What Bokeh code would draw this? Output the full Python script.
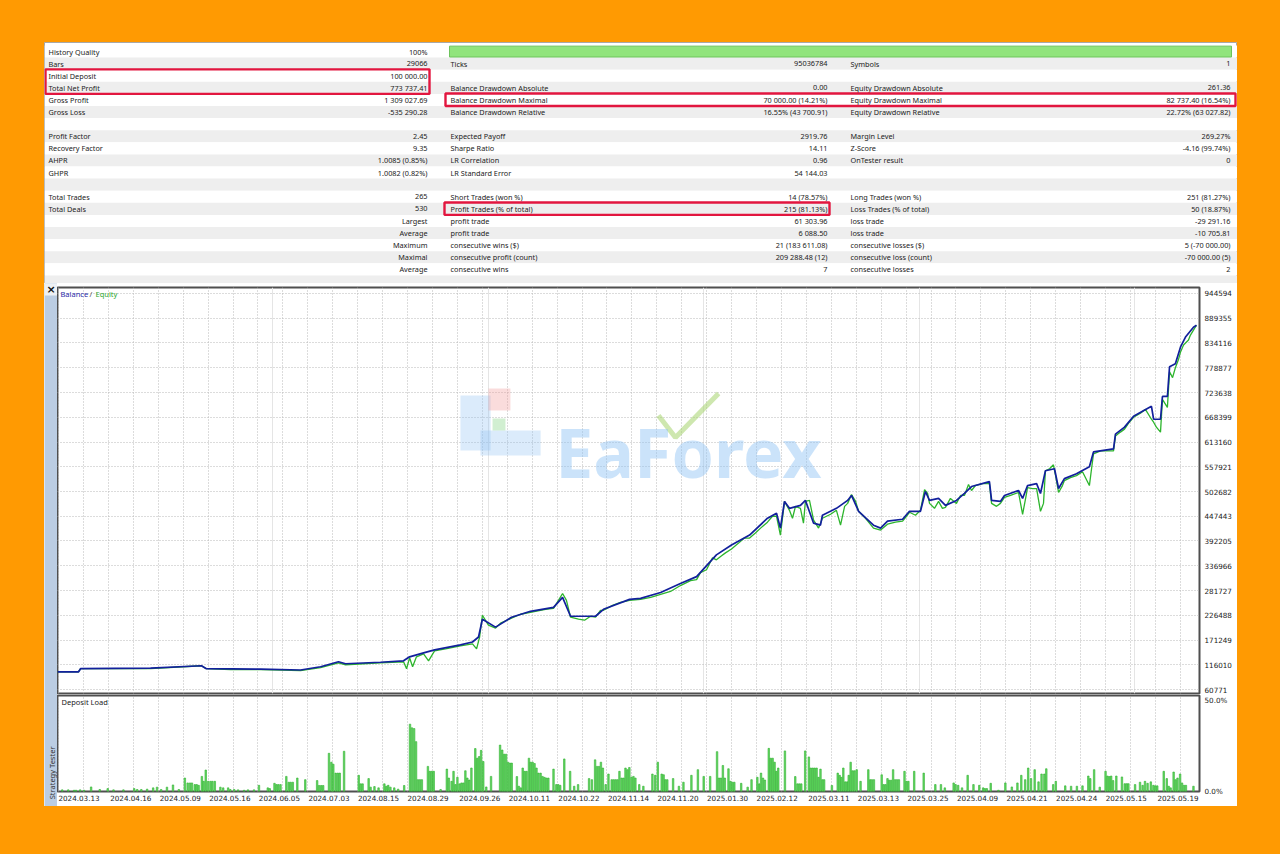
import math
import re
from bokeh.plotting import figure
from bokeh.layouts import column, row
from bokeh.models import (Range1d, FixedTicker, Grid, Label, Spacer,
                          PrintfTickFormatter, NumeralTickFormatter)
from bokeh.core.properties import value
from bokeh.embed import file_html
from bokeh.resources import INLINE

# ---------------- data ----------------
left_labels = ["History Quality", "Bars", "Initial Deposit", "Total Net Profit", "Gross Profit", "Gross Loss", "",
               "Profit Factor", "Recovery Factor", "AHPR", "GHPR", "", "Total Trades", "Total Deals",
               "", "", "", "", "", ""]
left_values = ["100%", "29066", "100 000.00", "773 737.41", "1 309 027.69", "-535 290.28", "",
               "2.45", "9.35", "1.0085 (0.85%)", "1.0082 (0.82%)", "", "265", "530",
               "Largest", "Average", "Maximum", "Maximal", "Average", ""]
mid_labels = ["", "Ticks", "", "Balance Drawdown Absolute", "Balance Drawdown Maximal", "Balance Drawdown Relative", "",
              "Expected Payoff", "Sharpe Ratio", "LR Correlation", "LR Standard Error", "",
              "Short Trades (won %)", "Profit Trades (% of total)", "profit trade", "profit trade",
              "consecutive wins ($)", "consecutive profit (count)", "consecutive wins", ""]
mid_values = ["", "95036784", "", "0.00", "70 000.00 (14.21%)", "16.55% (43 700.91)", "",
              "2919.76", "14.11", "0.96", "54 144.03", "",
              "14 (78.57%)", "215 (81.13%)", "61 303.96", "6 088.50",
              "21 (183 611.08)", "209 288.48 (12)", "7", ""]
right_labels = ["", "Symbols", "", "Equity Drawdown Absolute", "Equity Drawdown Maximal", "Equity Drawdown Relative", "",
                "Margin Level", "Z-Score", "OnTester result", "", "",
                "Long Trades (won %)", "Loss Trades (% of total)", "loss trade", "loss trade",
                "consecutive losses ($)", "consecutive loss (count)", "consecutive losses", ""]
right_values = ["", "1", "", "261.36", "82 737.40 (16.54%)", "22.72% (63 027.82)", "",
                "269.27%", "-4.16 (99.74%)", "0", "", "",
                "251 (81.27%)", "50 (18.87%)", "-29 291.16", "-10 705.81",
                "5 (-70 000.00)", "-70 000.00 (5)", "2", ""]

balance = [(0, 100000), (9.7, 100000), (10.7, 107172), (43.2, 108280), (66.8, 113800), (69.1, 107172),
           (94.2, 106067), (112.8, 104300), (122.1, 111591), (130.4, 122639), (133.7, 118220), (149.9, 121534),
           (160.6, 124848), (163.4, 133686), (169.9, 142525), (175.0, 149153), (187.0, 160202), (192.6, 166830),
           (195.4, 177879), (197.2, 217649), (203.3, 199973), (210.7, 222068), (219.5, 235326), (230.2, 244164),
           (234.4, 266259), (238.1, 224278), (249.7, 224278), (253.4, 239745), (265.5, 261840), (270.6, 264050),
           (279.9, 277307), (289.1, 297193), (296.6, 312659), (305.8, 361270), (312.8, 383365), (321.2, 405461),
           (329.5, 443023), (333.7, 454071), (335.5, 420928), (337.4, 480586), (339.7, 465119), (344.8, 471748),
           (347.1, 482795), (350.9, 431976), (354.1, 427557), (355.0, 449652), (361.5, 465119), (366.7, 482795),
           (368.5, 493843), (371.8, 458490), (378.7, 427557), (382.0, 420928), (385.2, 436395), (392.2, 440814),
           (395.4, 458490), (400.5, 458490), (402.8, 502681), (404.7, 482795), (408.9, 487214), (412.1, 471748),
           (417.2, 482795), (420.9, 498262), (424.2, 513729), (432.5, 524776), (433.5, 482795), (437.6, 480586),
           (439.5, 493843), (446.0, 504890), (447.9, 487214), (450.2, 515938), (454.4, 520357), (456.2, 498262),
           (458.5, 549081), (462.7, 553500), (464.6, 509310), (467.3, 531405), (472.9, 542452), (478.9, 557919),
           (480.8, 591062), (490.1, 597690), (491.0, 630834), (495.2, 646300), (499.4, 670605), (507.7, 692700),
           (508.7, 663976), (511.9, 663976), (512.8, 714796), (515.1, 714796), (516.1, 781082), (518.8, 787710),
           (521.2, 825273), (523.5, 847368), (527.2, 869464), (528.6, 873737)]

equity = [(0, 100000), (9.7, 100000), (10.7, 107172), (43.2, 107172), (66.8, 113800), (69.1, 107172),
          (80.3, 104962), (94.2, 104962), (112.8, 102753), (122.1, 109381), (130.4, 120429), (133.7, 116010),
          (149.9, 120429), (160.6, 122639), (162.0, 107172), (163.4, 131477), (164.8, 111591), (166.6, 133686),
          (169.9, 140315), (172.2, 124848), (175.0, 146944), (180.1, 151363), (187.0, 158012), (192.6, 162411),
          (194.5, 151363), (195.9, 177879), (197.2, 226488), (200.0, 204392), (203.3, 197767), (205.6, 208811),
          (210.7, 219859), (214.9, 228697), (219.5, 233116), (226.5, 239745), (230.2, 241954), (232.5, 259630),
          (234.4, 275097), (236.2, 259630), (238.1, 222068), (241.8, 217649), (244.6, 215440), (247.4, 224278),
          (249.7, 222068), (252.0, 237535), (253.4, 237535), (257.6, 248583), (261.3, 255211), (265.5, 259630),
          (270.6, 261840), (275.3, 266259), (279.9, 272888), (284.5, 279517), (289.1, 292774), (293.8, 303822),
          (296.6, 306031), (298.4, 321498), (301.2, 328127), (304.0, 354641), (305.8, 350222), (308.2, 359060),
          (310.0, 365689), (312.8, 374527), (316.1, 387785), (318.8, 398833), (321.2, 398833), (323.9, 409880),
          (326.3, 420928), (329.5, 434185), (331.8, 447443), (333.7, 447443), (335.5, 405461), (337.4, 480586),
          (339.7, 460700), (341.1, 443023), (342.5, 469538), (344.8, 465119), (346.2, 431976), (347.1, 480586),
          (349.0, 482795), (350.9, 438604), (353.2, 420928), (355.0, 443023), (358.8, 451862), (361.5, 460700),
          (363.4, 427557), (365.3, 469538), (366.7, 476167), (368.5, 496052), (370.4, 480586), (371.8, 458490),
          (375.0, 443023), (378.7, 420928), (382.0, 416510), (385.2, 429766), (388.9, 434185), (392.2, 436395),
          (394.0, 447443), (395.4, 456281), (398.2, 449652), (400.5, 460700), (402.4, 507100), (403.8, 498262),
          (404.7, 476167), (407.0, 465119), (408.9, 480586), (410.7, 465119), (412.1, 467329), (414.4, 487214),
          (417.2, 476167), (419.1, 493843), (420.9, 493843), (422.8, 518148), (424.2, 504890), (426.0, 515938),
          (429.3, 520357), (432.5, 520357), (433.5, 476167), (435.8, 469538), (437.6, 476167), (439.5, 489424),
          (442.3, 493843), (446.0, 500471), (447.9, 451862), (449.3, 487214), (450.2, 511519), (452.5, 509310),
          (454.4, 509310), (456.2, 458490), (457.6, 476167), (458.5, 549081), (460.4, 553500), (462.2, 562338),
          (463.2, 538033), (464.6, 500471), (466.4, 515938), (467.3, 526986), (470.1, 533614), (472.9, 538033),
          (475.7, 546871), (478.9, 515938), (479.9, 553500), (480.8, 586643), (484.1, 593271), (490.1, 593271),
          (491.0, 626414), (493.3, 635253), (495.2, 641881), (497.1, 655138), (499.4, 668395), (502.6, 677233),
          (504.9, 686071), (507.7, 663976), (508.7, 657348), (510.0, 646300), (511.9, 635253), (512.8, 708167),
          (515.1, 690490), (516.1, 770034), (517.5, 756782), (518.8, 778872), (520.2, 796548), (521.2, 814225),
          (522.6, 829692), (523.5, 834111), (524.9, 840739), (525.8, 851787), (527.2, 862835), (528.6, 873737)]

deposit_load = [(2.2, 0.9), (5.0, 0.9), (7.7, 0.7), (8.6, 0.7), (10.5, 0.9), (12.3, 0.7), (15.6, 2.5), (19.6, 1.1),
                (23.3, 1.6), (26.0, 0.9), (30.6, 0.9), (35.6, 1.6), (37.0, 1.1), (38.9, 1.1), (41.6, 1.3),
                (44.4, 2.0), (46.2, 2.4), (48.1, 1.1), (50.8, 2.4), (53.6, 3.6), (56.3, 1.1), (59.1, 7.4),
                (60.4, 4.7), (61.5, 4.7), (62.4, 4.7), (63.7, 3.8), (64.6, 3.8), (65.5, 3.4), (67.0, 8.3),
                (67.8, 5.6), (68.8, 11.8), (69.9, 5.6), (71.0, 5.6), (71.9, 5.6), (73.0, 5.6), (75.6, 2.4),
                (76.9, 2.0), (79.2, 2.0), (80.2, 1.1), (82.0, 1.1), (83.8, 0.9), (86.6, 0.7), (88.4, 0.9),
                (91.2, 0.9), (93.5, 3.4), (97.6, 2.0), (98.5, 1.6), (100.7, 4.5), (101.6, 3.8), (102.5, 3.8),
                (103.5, 3.8), (106.2, 8.3), (107.3, 5.1), (108.2, 5.1), (109.2, 5.1), (111.3, 7.4), (115.0, 6.5),
                (120.5, 6.0), (121.4, 3.3), (122.4, 3.3), (123.3, 3.3), (126.0, 21.0), (127.1, 16.1),
                (128.0, 15.0), (129.1, 10.1), (130.1, 10.1), (131.0, 10.1), (133.0, 22.1), (139.8, 8.9),
                (140.7, 4.2), (141.6, 4.2), (144.4, 7.1), (145.3, 2.4), (147.1, 2.7), (149.0, 2.0), (151.7, 4.2),
                (152.6, 2.9), (153.5, 3.4), (154.5, 2.4), (156.3, 2.0), (158.1, 1.3), (160.9, 3.3), (163.6, 37.0),
                (164.5, 35.0), (165.5, 34.6), (166.4, 27.4), (167.3, 6.5), (168.2, 6.5), (169.1, 6.5),
                (171.9, 13.8), (172.8, 11.1), (173.7, 11.1), (174.6, 11.1), (177.8, 1.1), (180.7, 12.3),
                (181.6, 7.4), (182.9, 5.6), (183.8, 11.1), (184.7, 3.8), (185.6, 7.8), (186.6, 4.2), (187.5, 4.7),
                (188.4, 4.7), (189.3, 11.4), (190.2, 7.4), (191.1, 6.3), (192.1, 12.9), (193.9, 23.6),
                (194.8, 18.3), (195.7, 19.2), (196.6, 22.6), (197.6, 16.5), (199.0, 2.5), (201.2, 8.3),
                (205.4, 25.5), (206.4, 22.8), (207.3, 20.5), (208.2, 20.5), (209.1, 16.1), (210.0, 15.6),
                (210.8, 15.6), (213.2, 8.2), (214.1, 2.9), (215.0, 2.0), (215.9, 12.9), (216.8, 11.1),
                (217.7, 11.1), (218.8, 18.3), (219.6, 16.1), (220.5, 16.1), (221.4, 15.4), (222.3, 12.9),
                (223.2, 10.1), (224.2, 10.1), (225.1, 8.3), (226.0, 7.8), (226.9, 7.4), (227.8, 7.4),
                (230.2, 12.3), (231.5, 3.8), (232.4, 3.8), (233.3, 3.4), (235.2, 17.9), (237.9, 11.1),
                (239.8, 2.9), (241.6, 3.8), (246.7, 7.1), (248.0, 6.5), (249.5, 17.4), (250.4, 13.8),
                (251.3, 13.8), (252.2, 16.1), (253.1, 12.9), (254.4, 3.8), (255.7, 9.6), (257.2, 6.5),
                (258.1, 6.5), (259.0, 6.5), (259.9, 6.5), (260.8, 11.1), (261.8, 7.4), (262.7, 7.4),
                (263.6, 12.9), (264.5, 12.0), (265.4, 13.2), (266.4, 7.8), (267.3, 8.3), (268.2, 7.4),
                (270.0, 3.8), (271.9, 2.9), (276.1, 9.6), (277.4, 8.9), (278.6, 16.1), (280.4, 9.6),
                (281.3, 9.2), (282.1, 6.5), (283.0, 6.5), (285.7, 7.1), (288.4, 2.9), (290.5, 5.1),
                (294.2, 8.9), (297.2, 12.0), (299.9, 8.3), (302.9, 8.3), (306.1, 21.9), (307.0, 7.4),
                (307.9, 7.4), (308.8, 14.3), (309.7, 7.4), (311.4, 12.5), (312.3, 5.6), (313.2, 5.1),
                (314.1, 5.1), (317.3, 4.5), (320.3, 2.4), (322.1, 6.5), (324.8, 7.8), (325.7, 4.2),
                (326.5, 10.1), (327.4, 7.4), (328.3, 6.3), (330.1, 23.7), (331.0, 18.3), (331.9, 18.3),
                (332.8, 16.1), (333.6, 11.1), (334.5, 12.9), (337.6, 22.3), (342.4, 8.2), (343.4, 4.2),
                (344.3, 4.2), (345.2, 4.2), (347.0, 22.3), (348.7, 19.0), (349.6, 12.9), (350.5, 12.9),
                (351.4, 12.9), (352.3, 12.9), (353.2, 7.8), (354.1, 12.3), (355.0, 6.5), (355.8, 6.5),
                (359.4, 3.3), (362.1, 10.1), (363.0, 8.9), (363.8, 7.8), (364.7, 12.9), (365.6, 5.3),
                (366.5, 5.3), (367.2, 8.9), (368.1, 16.1), (369.0, 11.4), (369.9, 11.4), (370.9, 12.0),
                (372.7, 5.6), (376.3, 12.0), (377.2, 6.5), (378.0, 6.5), (378.9, 6.5), (382.5, 9.2),
                (383.4, 3.8), (384.3, 3.8), (385.2, 7.1), (386.0, 6.2), (386.9, 6.2), (387.8, 12.0),
                (388.7, 6.5), (389.6, 6.5), (390.5, 6.5), (393.1, 11.1), (394.0, 5.6), (394.9, 5.6),
                (397.6, 11.1), (402.0, 10.1), (407.4, 3.8), (410.0, 3.8), (411.8, 2.0), (415.9, 4.7),
                (416.8, 3.8), (418.0, 3.4), (419.8, 2.0), (422.4, 8.9), (425.1, 3.8), (427.8, 3.4),
                (429.6, 2.0), (430.4, 1.6), (431.3, 1.6), (433.1, 4.5), (436.7, 0.7), (439.9, 4.7),
                (442.9, 2.5), (445.5, 4.7), (447.3, 8.9), (449.1, 6.5), (450.5, 12.9), (451.8, 7.1),
                (453.5, 12.0), (455.3, 5.3), (456.7, 9.6), (458.0, 9.6), (458.9, 12.5), (462.1, 3.8),
                (463.3, 5.6), (467.7, 3.1), (470.4, 2.9), (473.1, 2.9), (475.7, 3.1), (478.4, 8.5),
                (479.3, 7.1), (481.1, 12.0), (483.7, 2.4), (486.4, 11.1), (487.3, 8.5), (488.2, 8.2),
                (489.0, 8.5), (489.9, 6.0), (491.4, 8.5), (494.0, 8.0), (495.3, 4.3), (496.2, 4.3),
                (497.0, 4.3), (500.1, 3.8), (502.4, 5.1), (503.6, 3.4), (504.7, 5.6), (505.9, 4.5),
                (507.4, 5.3), (508.6, 3.4), (509.5, 3.1), (510.4, 3.1), (513.4, 11.1), (514.8, 7.1),
                (515.7, 2.9), (516.6, 2.0), (518.0, 10.7), (518.9, 6.5), (519.8, 7.4), (521.0, 9.6),
                (521.9, 4.7), (522.8, 3.4), (523.7, 3.4), (527.2, 2.9)]

date_labels = ["2024.03.13", "2024.04.16", "2024.05.09", "2024.05.16", "2024.06.05", "2024.07.03",
               "2024.08.15", "2024.08.29", "2024.09.26", "2024.10.11", "2024.10.22", "2024.11.14",
               "2024.11.20", "2025.01.30", "2025.02.12", "2025.03.11", "2025.03.13", "2025.03.25",
               "2025.04.09", "2025.04.21", "2025.04.24", "2025.05.15", "2025.05.19"]
date_tick_pos = [10, 34, 57, 80, 103, 126, 149, 172, 196, 219, 242, 265, 288, 311, 334, 358, 381, 404,
                 427, 450, 473, 496, 520]
balance_ticks = [60771, 116010, 171249, 226488, 281727, 336966, 392205, 447443, 502682, 557921,
                 613160, 668399, 723638, 778877, 834116, 889355, 944594]
load_ticks = [0, 50]
total_deals = 530

# ---------------- style ----------------
ORANGE = "#FF9A02"
UI_FONT = "Noto Sans"
AX_FONT = "DejaVu Sans"
BAL_COLOR = "#12209C"
EQ_COLOR = "#2DB52D"
RED = "#E2163F"
GRID_COLOR = "#B9B9B9"
GRID_DASH = "1 2"
vgrid_ticks = [0.46 + 11.57 * k for k in range(46)]

# ---------------- statistics table ----------------
TW, TH = 1193, 241
tp = figure(width=TW, height=TH, x_range=Range1d(0, TW), y_range=Range1d(19.67, -0.25),
            output_backend="svg", toolbar_location=None, min_border=0, title=None,
            x_axis_location=None, y_axis_location=None)
tp.xgrid.visible = False
tp.ygrid.visible = False
tp.background_fill_color = "white"
tp.border_fill_color = ORANGE
tp.outline_line_color = "#A8A8A8"

nrows = len(left_labels)
tp.quad(left=[0] * nrows, right=[TW] * nrows, top=list(range(nrows)), bottom=[i + 1 for i in range(nrows)],
        fill_color=["#FFFFFF" if i % 2 == 0 else "#EEEEEE" for i in range(nrows)], line_color=None)
# history quality bar
tp.quad(left=[405], right=[1187], top=[0.05], bottom=[0.95], fill_color="#91E47C", line_color="#6DC35C")

label_x = [4, 406, 806]
value_x = [383, 783, 1186]
for ci, (labs, vals) in enumerate([(left_labels, left_values), (mid_labels, mid_values),
                                   (right_labels, right_values)]):
    rl = [i for i, t in enumerate(labs) if t]
    tp.text(x=[label_x[ci]] * len(rl), y=[i + 0.5 for i in rl], text=[labs[i] for i in rl],
            text_font=value(UI_FONT), text_font_size="7.3px", text_color="#222222",
            text_align="left", text_baseline="middle")
    rv = [i for i, t in enumerate(vals) if t]
    tp.text(x=[value_x[ci]] * len(rv), y=[i + 0.5 for i in rv], text=[vals[i] for i in rv],
            text_font=value(UI_FONT), text_font_size="7.3px", text_color="#222222",
            text_align="right", text_baseline="middle")

# red highlight frames (Initial Deposit + Net Profit, Drawdown Maximal row, Profit Trades)
tp.quad(left=[1, 401, 400], right=[385, 1191, 785], top=[1.97, 3.97, 12.97], bottom=[4.0, 5.0, 14.0],
        fill_color=None, line_color=RED, line_width=2.4)

# ---------------- left strip ----------------
SH = 523
sp = figure(width=13, height=SH, x_range=Range1d(0, 13), y_range=Range1d(0, SH),
            output_backend="svg", toolbar_location=None, min_border=0, title=None,
            x_axis_location=None, y_axis_location=None)
sp.xgrid.visible = False
sp.ygrid.visible = False
sp.background_fill_color = "#BBCDE3"
sp.border_fill_color = "#BBCDE3"
sp.outline_line_color = None
sp.quad(left=[0], right=[13], top=[SH], bottom=[SH - 12], fill_color="#EEF1F5", line_color=None)
sp.text(x=[6.5], y=[SH - 6], text=["\u00d7"], text_font=value(AX_FONT), text_font_size="11px",
        text_font_style="bold", text_color="#111111", text_align="center", text_baseline="middle")
sp.text(x=[7], y=[60], text=["Strategy Tester"], angle=math.pi / 2, text_font=value(UI_FONT),
        text_font_size="7.5px", text_color="#333333", text_align="right", text_baseline="middle")

# ---------------- balance / equity chart ----------------
bp = figure(width=1180, height=411, x_range=Range1d(0, total_deals), y_range=Range1d(51844, 957985),
            output_backend="svg", toolbar_location=None, title=None,
            x_axis_location=None, y_axis_location="right",
            min_border_left=0, min_border_right=38, min_border_top=4, min_border_bottom=1)
bp.background_fill_color = "white"
bp.border_fill_color = "white"
bp.outline_line_color = "#4F4F4F"
bp.outline_line_width = 2
ax = bp.yaxis[0]
ax.ticker = FixedTicker(ticks=balance_ticks)
ax.formatter = NumeralTickFormatter(format="0")
ax.major_label_text_font = AX_FONT
ax.major_label_text_font_size = "7.2px"
ax.major_label_text_color = "#222222"
ax.axis_line_color = None
ax.major_tick_line_color = None
ax.minor_tick_line_color = None
ax.major_tick_out = 0
ax.major_tick_in = 0
ax.major_label_standoff = 5
bp.ygrid.ticker = FixedTicker(ticks=balance_ticks)
bp.ygrid.grid_line_color = GRID_COLOR
bp.ygrid.grid_line_dash = GRID_DASH
bp.add_layout(Grid(dimension=0, ticker=FixedTicker(ticks=vgrid_ticks), grid_line_color=GRID_COLOR,
                   grid_line_dash=GRID_DASH))

# faint watermark logo (decoration)
bp.quad(left=[187.0, 196.3], right=[201.0, 224.2], top=[716944, 638828], bottom=[594190, 583031],
        fill_color="#8FC0F2", fill_alpha=0.32, line_color=None)
bp.quad(left=[200.0], right=[210.2], top=[732567], bottom=[683466],
        fill_color="#F29A9A", fill_alpha=0.35, line_color=None)
bp.quad(left=[201.9], right=[207.9], top=[665611], bottom=[638828],
        fill_color="#9ADB9A", fill_alpha=0.45, line_color=None)
bp.line([278.9, 286.8, 306.8], [672307, 623205, 721408], line_color="#A6D36E", line_alpha=0.55,
        line_width=5)

bp.line([d for d, _ in equity], [v for _, v in equity], line_color=EQ_COLOR, line_width=1.3)
bp.line([d for d, _ in balance], [v for _, v in balance], line_color=BAL_COLOR, line_width=1.7)

bp.add_layout(Label(x=0, y=942400, x_offset=3, text="Balance", text_font=UI_FONT, text_font_size="7.5px",
                    text_color="#2A2AA8", text_baseline="middle"))
bp.add_layout(Label(x=0, y=942400, x_offset=32, text="/", text_font=UI_FONT, text_font_size="7.5px",
                    text_color="#555555", text_baseline="middle"))
bp.add_layout(Label(x=0, y=942400, x_offset=38, text="Equity", text_font=UI_FONT, text_font_size="7.5px",
                    text_color="#2FA82F", text_baseline="middle"))
bp.add_layout(Label(x=231, y=593000, text="EaForex", text_font=UI_FONT, text_font_size="68px",
                    text_font_style="bold", text_color="#8CC0F4", text_alpha=0.45,
                    text_baseline="alphabetic"))

# ---------------- deposit load chart ----------------
dp = figure(width=1180, height=112, x_range=bp.x_range, y_range=Range1d(0, 52.75),
            output_backend="svg", toolbar_location=None, title=None,
            x_axis_location="below", y_axis_location="right",
            min_border_left=0, min_border_right=38, min_border_top=1, min_border_bottom=15)
dp.background_fill_color = "white"
dp.border_fill_color = "white"
dp.outline_line_color = "#4F4F4F"
dp.outline_line_width = 2
xa = dp.xaxis[0]
xa.ticker = FixedTicker(ticks=date_tick_pos)
xa.major_label_overrides = {p: s for p, s in zip(date_tick_pos, date_labels)}
xa.major_label_text_font = AX_FONT
xa.major_label_text_font_size = "7.2px"
xa.major_label_text_color = "#222222"
xa.axis_line_color = None
xa.major_tick_line_color = None
xa.minor_tick_line_color = None
xa.major_tick_out = 0
xa.major_tick_in = 0
xa.major_label_standoff = 3
ya = dp.yaxis[0]
ya.ticker = FixedTicker(ticks=load_ticks)
ya.formatter = PrintfTickFormatter(format="%.1f%%")
ya.major_label_text_font = AX_FONT
ya.major_label_text_font_size = "7.2px"
ya.major_label_text_color = "#222222"
ya.axis_line_color = None
ya.major_tick_line_color = None
ya.minor_tick_line_color = None
ya.major_tick_out = 0
ya.major_tick_in = 0
ya.major_label_standoff = 5
dp.ygrid.visible = False
dp.xgrid.ticker = FixedTicker(ticks=vgrid_ticks)
dp.xgrid.grid_line_color = GRID_COLOR
dp.xgrid.grid_line_dash = GRID_DASH

dp.vbar(x=[d for d, _ in deposit_load], top=[v for _, v in deposit_load], bottom=0, width=0.7,
        fill_color="#66DA66", line_color="#2DAE2D", line_width=0.6)
dp.add_layout(Label(x=0, y=49.3, x_offset=4, text="Deposit Load", text_font=UI_FONT, text_font_size="7.5px",
                    text_color="#222222", text_baseline="middle"))

# ---------------- layout ----------------
chart = row(sp, column(bp, dp, spacing=0, styles={"background-color": "white"}), spacing=0,
            styles={"background-color": "white"})
root = column(Spacer(width=1280, height=42),
              row(Spacer(width=44, height=10), tp, spacing=0),
              row(Spacer(width=44, height=10), chart, spacing=0),
              Spacer(width=1280, height=48),
              spacing=0, styles={"background-color": ORANGE})

html = file_html(root, INLINE, title="Strategy Tester Report")
html = html.replace("</head>", "<style>html, body { background-color: #FF9A02 !important; }</style></head>", 1)
html = re.sub(r"<body[^>]*>", '<body style="background-color:#FF9A02;">', html, count=1)
open("out.html", "w").write(html)
